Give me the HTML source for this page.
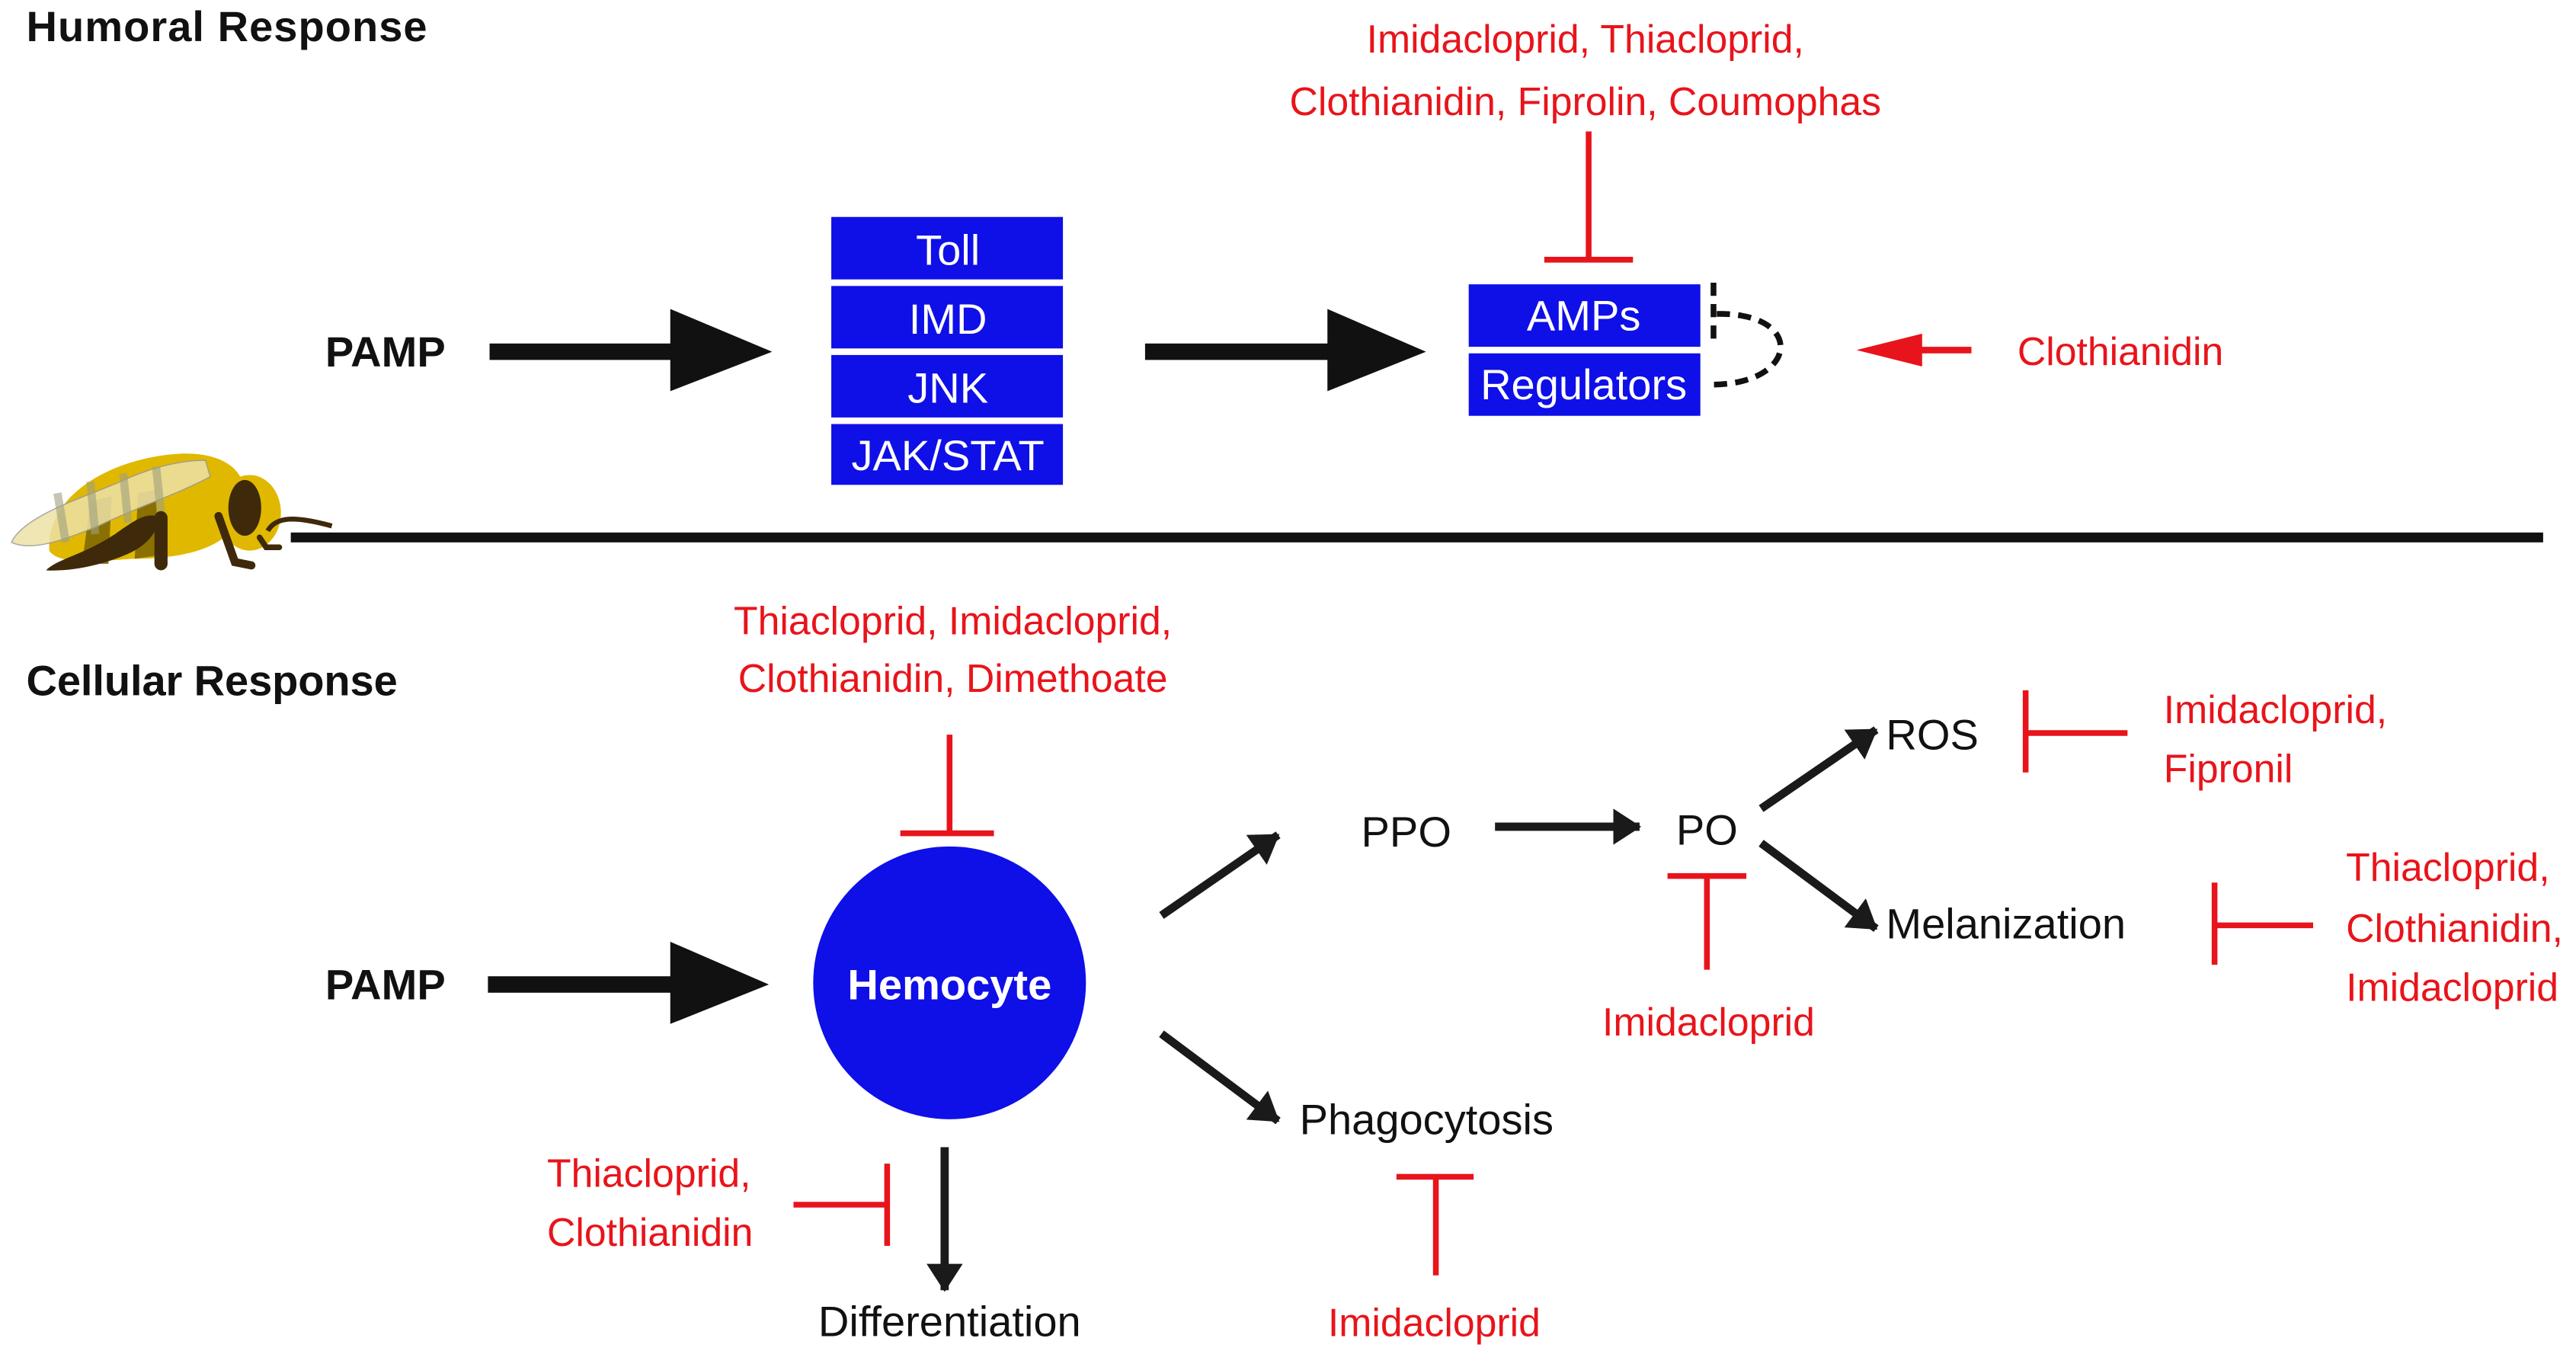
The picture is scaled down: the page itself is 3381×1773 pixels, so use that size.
<!DOCTYPE html>
<html><head><meta charset="utf-8"><style>
html,body{margin:0;padding:0;background:#fff}
svg{display:block}
text{font-family:"Liberation Sans",sans-serif}
.r{fill:#e8141b;font-size:24px}
.k{fill:#111;font-size:26px}
.w{fill:#fff;font-size:26px}
</style></head><body>
<svg width="3381" height="1773" viewBox="0 0 1568 822" preserveAspectRatio="none" xmlns="http://www.w3.org/2000/svg">
<defs>
<marker id="ah" markerWidth="17" markerHeight="22" refX="16" refY="11" orient="auto" markerUnits="userSpaceOnUse" viewBox="0 0 17 22"><path d="M0,0 L17,11 L0,22z" fill="#1a1a1a"/></marker>
</defs>
<g>
<text x="16" y="25" font-weight="bold" font-size="26" fill="#111" textLength="244">Humoral Response</text>
<text class="r" x="965" y="32" text-anchor="middle">Imidacloprid, Thiacloprid,</text>
<text class="r" x="965" y="70" text-anchor="middle">Clothianidin, Fiprolin, Coumophas</text>
<path d="M967,80 V158 M940,158 H994" stroke="#e8141b" stroke-width="3.5" fill="none"/>
<text x="198" y="223" font-weight="bold" class="k">PAMP</text>
<g><rect x="298" y="209" width="112" height="10" fill="#111"/><path d="M408,188 L470,214 L408,238z" fill="#111"/></g>
<g>
<rect x="506" y="132" width="141" height="38" fill="#0f0fe8"/><text class="w" x="577" y="161" text-anchor="middle">Toll</text>
<rect x="506" y="174" width="141" height="38" fill="#0f0fe8"/><text class="w" x="577" y="203" text-anchor="middle">IMD</text>
<rect x="506" y="216" width="141" height="38" fill="#0f0fe8"/><text class="w" x="577" y="245" text-anchor="middle">JNK</text>
<rect x="506" y="258" width="141" height="37" fill="#0f0fe8"/><text class="w" x="577" y="286" text-anchor="middle">JAK/STAT</text>
</g>
<g><rect x="697" y="209" width="113" height="10" fill="#111"/><path d="M808,188 L868,214 L808,238z" fill="#111"/></g>
<rect x="894" y="173" width="141" height="38" fill="#0f0fe8"/><text class="w" x="964" y="201" text-anchor="middle">AMPs</text>
<rect x="894" y="215" width="141" height="38" fill="#0f0fe8"/><text class="w" x="964" y="243" text-anchor="middle">Regulators</text>
<path d="M1043,172 V210 M1045,191 C1100,190 1095,235 1040,234" stroke="#111" stroke-width="3.5" fill="none" stroke-dasharray="8,5"/>
<g><rect x="1168" y="211" width="32" height="4" fill="#e8141b"/><path d="M1130,213 L1170,203 L1170,223z" fill="#e8141b"/></g>
<text class="r" x="1228" y="222">Clothianidin</text>
</g>
<g>
<path d="M30,335 C28,300 70,278 110,276 C140,275 150,290 148,300 C150,330 120,340 80,340 C55,342 35,343 30,335z" fill="#e0b800"/>
<path d="M50,343 L55,305 L68,302 L66,343z" fill="#8a7000"/>
<path d="M82,340 L84,300 L95,298 L96,338z" fill="#8a7000"/>
<ellipse cx="152" cy="312" rx="19" ry="23" fill="#e0b800"/>
<ellipse cx="149" cy="309" rx="10" ry="17" fill="#3e2a0a"/>
<path d="M7,330 C15,312 60,300 80,290 C100,282 115,280 125,280 L128,290 C110,300 80,310 60,320 C40,328 20,336 7,330z" fill="#eee2a8" opacity="0.85" stroke="#999" stroke-width="0.7"/>
<path d="M35,300 L40,330 M55,293 L58,325 M75,288 L78,318 M95,284 L98,312" stroke="#a0a080" stroke-width="5" opacity="0.6"/>
<path d="M28,347 C35,340 50,338 70,325 C80,318 88,312 95,314 C98,320 92,330 80,336 C65,343 45,348 28,347z" fill="#3e2a0a"/>
<rect x="94" y="311" width="8" height="36" rx="4" fill="#3e2a0a"/>
<path d="M133,314 L143,342 L153,344" stroke="#3e2a0a" stroke-width="5" fill="none" stroke-linecap="round"/>
<path d="M158,327 L162,333 L170,333" stroke="#3e2a0a" stroke-width="3.5" fill="none" stroke-linecap="round"/>
<path d="M163,323 C168,314 180,314 202,320" stroke="#3e2a0a" stroke-width="3" fill="none"/>
</g>
<rect x="177" y="324" width="1371" height="6" fill="#111"/>
<g>
<text x="16" y="423" font-weight="bold" font-size="26" fill="#111" textLength="226">Cellular Response</text>
<text class="r" x="580" y="386" text-anchor="middle">Thiacloprid, Imidacloprid,</text>
<text class="r" x="580" y="421" text-anchor="middle">Clothianidin, Dimethoate</text>
<path d="M578,447 V507 M548,507 H605" stroke="#e8141b" stroke-width="3.5" fill="none"/>
<text x="198" y="608" font-weight="bold" class="k">PAMP</text>
<g><rect x="297" y="594" width="113" height="10" fill="#111"/><path d="M408,573 L468,599 L408,623z" fill="#111"/></g>
<circle cx="578" cy="598" r="83" fill="#0f0fe8"/>
<text x="578" y="608" text-anchor="middle" font-weight="bold" class="w">Hemocyte</text>
<g stroke="#1a1a1a" stroke-width="5" fill="none">
<path d="M707,557 L778,508" marker-end="url(#ah)"/>
<path d="M707,629 L778,682" marker-end="url(#ah)"/>
<path d="M910,503 L998,503" marker-end="url(#ah)"/>
<path d="M1072,492 L1142,444" marker-end="url(#ah)"/>
<path d="M1072,513 L1142,565" marker-end="url(#ah)"/>
<path d="M575,698 L575,785" marker-end="url(#ah)"/>
</g>
<text class="k" x="856" y="515" text-anchor="middle">PPO</text>
<text class="k" x="1039" y="514" text-anchor="middle">PO</text>
<path d="M1015,533 H1063 M1039,533 V590" stroke="#e8141b" stroke-width="3.5" fill="none"/>
<text class="r" x="1040" y="630" text-anchor="middle">Imidacloprid</text>
<text class="k" x="1148" y="456">ROS</text>
<path d="M1233,420 V470 M1233,446 H1295" stroke="#e8141b" stroke-width="3.5" fill="none"/>
<text class="r" x="1317" y="440">Imidacloprid,</text>
<text class="r" x="1317" y="476">Fipronil</text>
<text class="k" x="1148" y="571">Melanization</text>
<path d="M1348,537 V587 M1348,563 H1408" stroke="#e8141b" stroke-width="3.5" fill="none"/>
<text class="r" x="1428" y="536">Thiacloprid,</text>
<text class="r" x="1428" y="573">Clothianidin,</text>
<text class="r" x="1428" y="609">Imidacloprid</text>
<text class="k" x="791" y="690">Phagocytosis</text>
<path d="M850,716 H897 M874,716 V776" stroke="#e8141b" stroke-width="3.5" fill="none"/>
<text class="r" x="873" y="813" text-anchor="middle">Imidacloprid</text>
<text class="k" x="578" y="813" text-anchor="middle">Differentiation</text>
<path d="M483,733 H540 M540,708 V758" stroke="#e8141b" stroke-width="3.5" fill="none"/>
<text class="r" x="333" y="722">Thiacloprid,</text>
<text class="r" x="333" y="758">Clothianidin</text>
</g>
</svg>
</body></html>
